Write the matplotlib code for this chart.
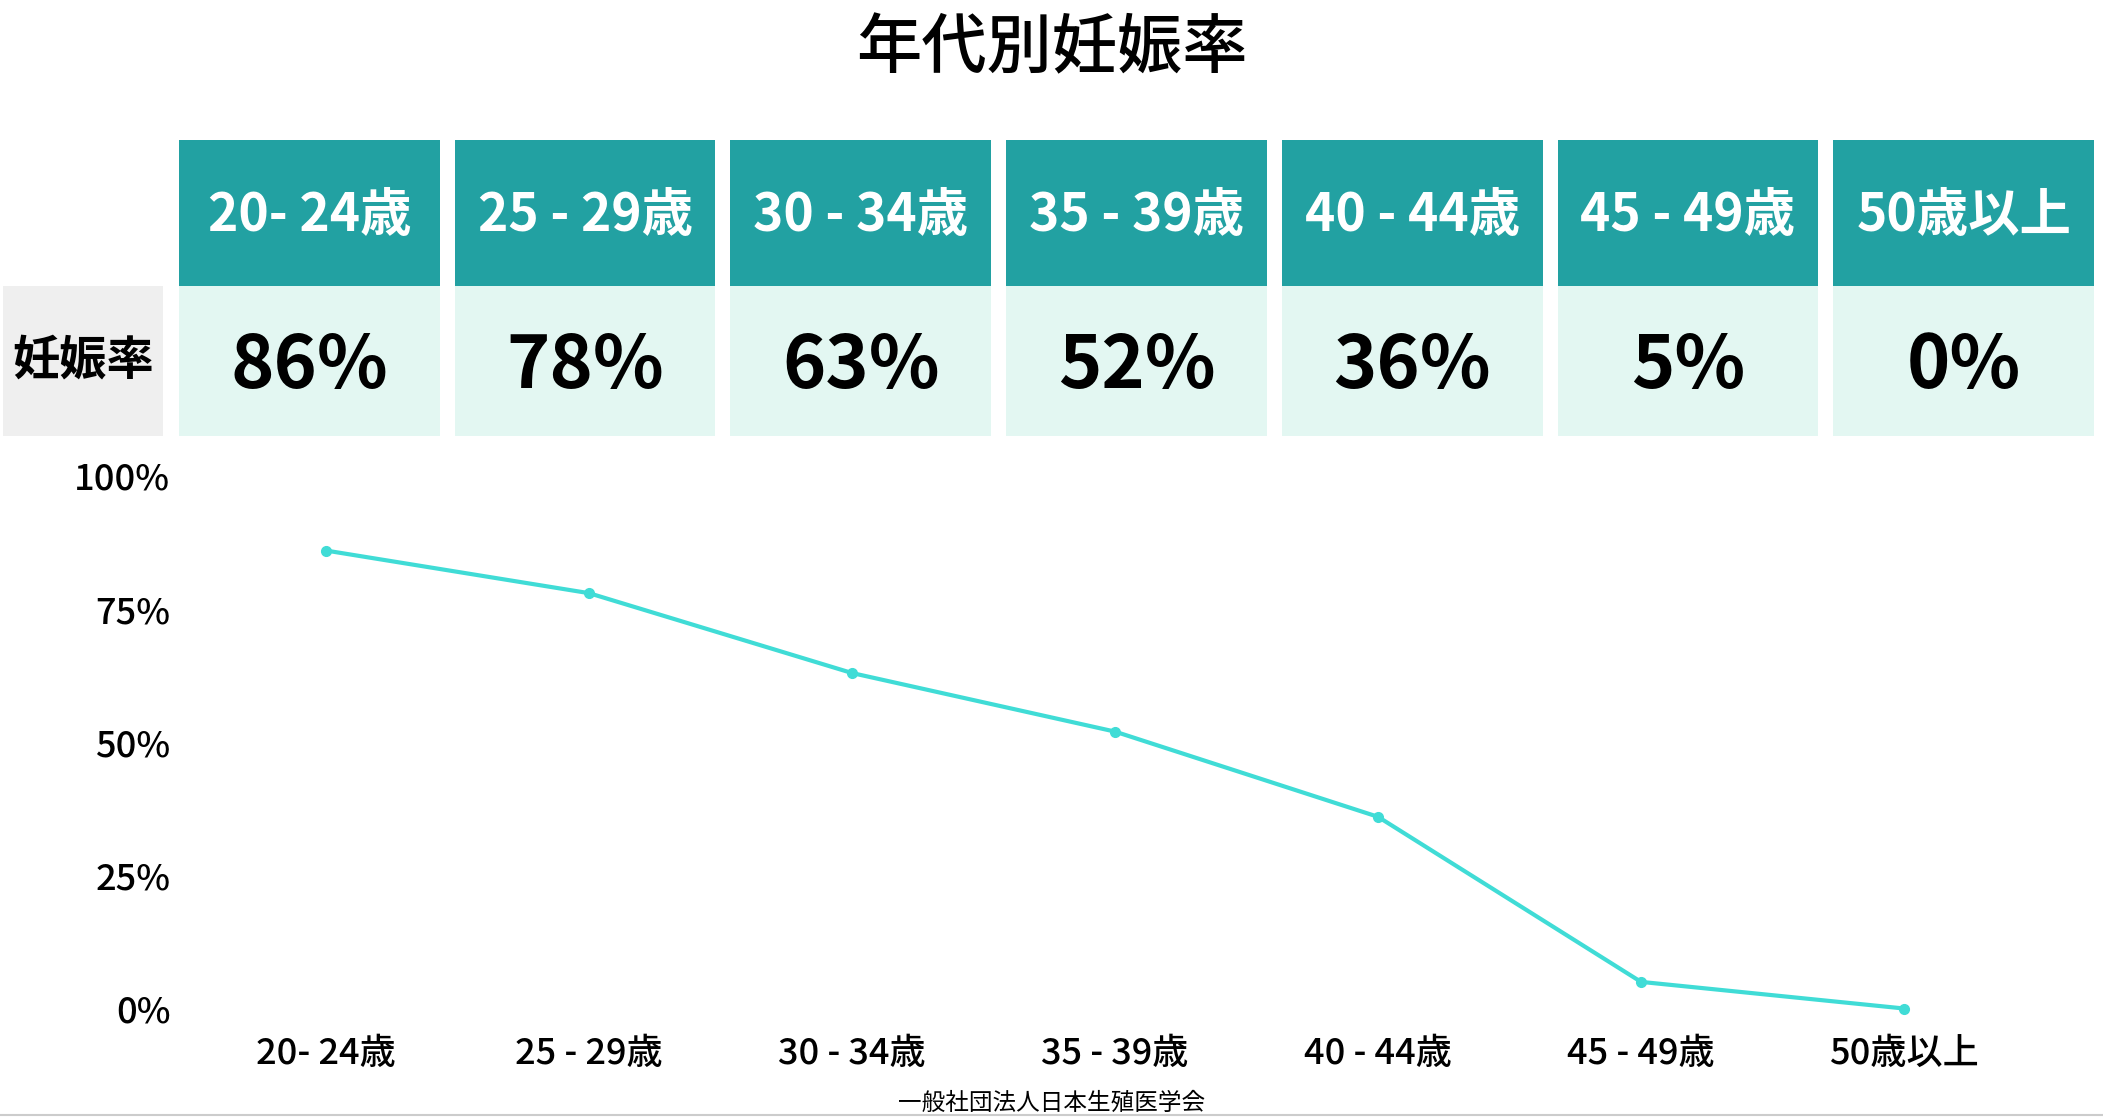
import matplotlib
matplotlib.use("Agg")
import matplotlib.pyplot as plt
from matplotlib.patches import Rectangle

plt.rcParams['font.family'] = ['Noto Sans CJK JP', 'DejaVu Sans']

title = '年代別妊娠率'
row_label = '妊娠率'
age_groups = ['20- 24歳', '25 - 29歳', '30 - 34歳', '35 - 39歳', '40 - 44歳', '45 - 49歳', '50歳以上']
rates = [86, 78, 63, 52, 36, 5, 0]
y_ticks = [0, 25, 50, 75, 100]
source = '一般社団法人日本生殖医学会'

W, H = 2103, 1117
teal = '#22a1a2'
mint = '#e3f7f2'
grey_box = '#efefef'
line_color = '#40dcd6'

fig = plt.figure(figsize=(W / 100, H / 100), dpi=100)

# overlay in pixel coords for the table / title
tax = fig.add_axes([0, 0, 1, 1])
tax.set_xlim(0, W)
tax.set_ylim(H, 0)
tax.axis('off')

tax.text(W / 2, 50, title, ha='center', va='center', fontsize=47, fontweight='medium')

# table layout
left0, right_end, gap = 179, 2094, 15
n = len(age_groups)
col_w = (right_end - left0 - gap * (n - 1)) / n
head_top, mid, bottom = 140, 286, 436

tax.add_patch(Rectangle((3, mid), 160, bottom - mid, color=grey_box, lw=0))
tax.text(83, (mid + bottom) / 2, row_label, ha='center', va='center', fontsize=34, fontweight='bold')

for i, (lab, r) in enumerate(zip(age_groups, rates)):
    x0 = left0 + i * (col_w + gap)
    tax.add_patch(Rectangle((x0, head_top), col_w, mid - head_top, color=teal, lw=0))
    tax.add_patch(Rectangle((x0, mid), col_w, bottom - mid, color=mint, lw=0))
    tax.text(x0 + col_w / 2, (head_top + mid) / 2 + 3, lab, ha='center', va='center',
             fontsize=37, fontweight='bold', color='white')
    tax.text(x0 + col_w / 2, (mid + bottom) / 2 + 6, f'{r}%', ha='center', va='center',
             fontsize=53, fontweight='bold', color='black')

tax.text(W / 2, 1103, source, ha='center', va='center', fontsize=17)
tax.axhline(1115, color='#cccccc', lw=1.5)

# line chart
ax = fig.add_axes([180 / W, 1 - 1008.5 / H, (2094 - 180) / W, (1008.5 - 476) / H])
x = list(range(n))
ax.plot(x, rates, color=line_color, lw=3, marker='o', markersize=7, clip_on=False)
ax.set_xlim((180 - 326) / 263, (2094 - 326) / 263)
ax.set_ylim(0, 100)
ax.set_yticks(y_ticks)
ax.set_yticklabels([f'{v}%' for v in y_ticks], fontweight='medium')
ax.set_xticks(x)
ax.set_xticklabels(age_groups, fontweight='medium')
ax.tick_params(axis='y', length=0, pad=7, labelsize=26)
ax.tick_params(axis='x', length=0, pad=20, labelsize=26)
for s in ax.spines.values():
    s.set_visible(False)
ax.patch.set_alpha(0)

fig.savefig('out.png', dpi=100)
